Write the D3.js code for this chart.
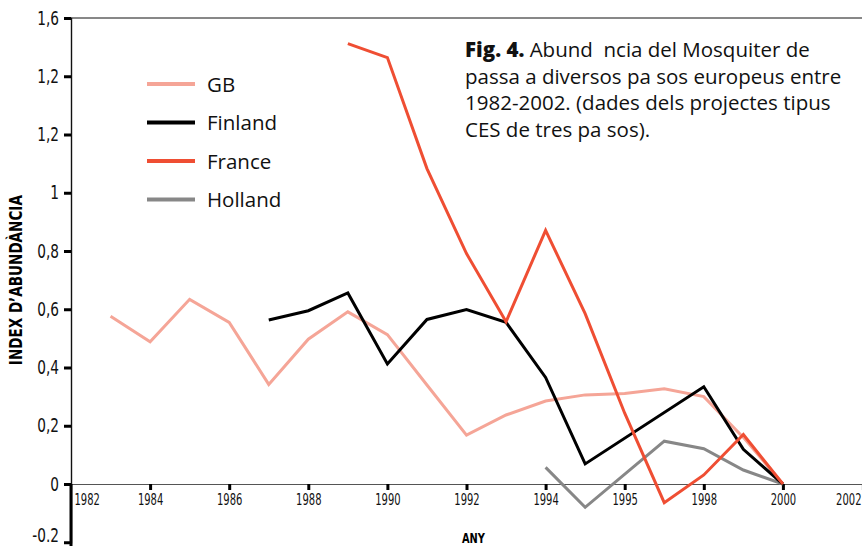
<!DOCTYPE html>
<html>
<head>
<meta charset="utf-8">
<script src="https://cdn.jsdelivr.net/npm/d3@7"></script>
<style>
  body { margin: 0; background: #fff; }
  .narrow { font-family: "DejaVu Sans Condensed", "DejaVu Sans", sans-serif; font-stretch: condensed; }
  .txt { font-family: "Open Sans", "Noto Sans", sans-serif; }
</style>
</head>
<body>
<div id="chart"></div>
<script>
'use strict';

// data
var xTicks = [1982, 1984, 1986, 1988, 1990, 1992, 1994, 1996, 1998, 2000, 2002];
var xTickLabels = ['1982', '1984', '1986', '1988', '1990', '1992', '1994', '1995', '1998', '2000', '2002'];
var yTicks = [-0.2, 0, 0.2, 0.4, 0.6, 0.8, 1, 1.2, 1.4, 1.6];
var yTickLabels = ['-0.2', '0', '0,2', '0,4', '0,6', '0,8', '1', '1,2', '1,2', '1,6'];

var gbYears = [1983, 1984, 1985, 1986, 1987, 1988, 1989, 1990, 1991, 1992, 1993, 1994, 1995, 1996, 1997, 1998, 1999, 2000];
var gbValues = [0.576, 0.488, 0.634, 0.555, 0.342, 0.497, 0.591, 0.513, 0.34, 0.168, 0.237, 0.285, 0.306, 0.311, 0.327, 0.300, 0.16, 0];

var finYears = [1987, 1988, 1989, 1990, 1991, 1992, 1993, 1994, 1995, 1998, 1999, 2000];
var finValues = [0.563, 0.595, 0.656, 0.412, 0.565, 0.599, 0.555, 0.366, 0.069, 0.334, 0.119, 0];

var fraYears = [1989, 1990, 1991, 1992, 1993, 1994, 1995, 1996, 1997, 1998, 1999, 2000];
var fraValues = [1.512, 1.464, 1.083, 0.791, 0.557, 0.871, 0.585, 0.243, -0.064, 0.031, 0.17, 0];

var holYears = [1994, 1995, 1997, 1998, 1999, 2000];
var holValues = [0.057, -0.08, 0.147, 0.121, 0.048, 0];

var seriesNames = ['GB', 'Finland', 'France', 'Holland'];
var seriesColors = ['#f5a597', '#000000', '#ef4e33', '#878787'];

var titleLines = [
  [{t: 'Fig. 4.', b: true}, {t: ' Abund  ncia del Mosquiter de'}],
  [{t: 'passa a diversos pa sos europeus entre'}],
  [{t: '1982-2002. (dades dels projectes tipus'}],
  [{t: 'CES de tres pa sos).'}]
];

var width = 862, height = 546;
var sqY = 0.8;    // horizontal squeeze, y tick labels
var sqX = 0.74;   // horizontal squeeze, x tick labels

var svg = d3.select('#chart')
  .append('svg')
    .attr('width', width)
    .attr('height', height);

var x = d3.scaleLinear().domain([1982, 2002]).range([71, 862]);
var y = d3.scaleLinear().domain([-0.2, 1.6]).range([542.25, 18]);

// frame top line
svg.append('line')
  .attr('x1', x(1982)).attr('x2', x(2002))
  .attr('y1', y(1.6)).attr('y2', y(1.6))
  .attr('stroke', '#111').attr('stroke-width', 1);

// x axis along zero
var xAxis = d3.axisBottom(x)
  .tickValues(xTicks)
  .tickSize(6)
  .tickFormat(function(d, i){ return xTickLabels[i]; });

var gx = svg.append('g')
  .attr('transform', 'translate(0,' + y(0) + ')')
  .call(xAxis);
gx.select('.domain').attr('stroke', '#555').attr('stroke-width', 1.2);
gx.selectAll('.tick line').attr('stroke', '#000').attr('stroke-width', 3);
gx.selectAll('.tick text')
  .attr('class', 'narrow')
  .attr('y', 10)
  .attr('font-size', 15)
  .attr('transform', 'scale(' + sqX + ',1)')
  .attr('fill', '#111');
gx.selectAll('.tick').filter(function(d){ return d === 1982; }).select('text')
  .attr('text-anchor', 'start').attr('dx', 3 / sqX);
gx.selectAll('.tick').filter(function(d){ return d === 2002; }).select('text')
  .attr('text-anchor', 'end').attr('dx', -1 / sqX);
gx.selectAll('.tick').filter(function(d){ return d === 1982 || d === 2002; }).select('line').remove();

// y axis
var yAxis = d3.axisLeft(y)
  .tickValues(yTicks)
  .tickSize(7)
  .tickFormat(function(d, i){ return yTickLabels[i]; });

var gy = svg.append('g')
  .attr('transform', 'translate(' + x(1982) + ',0)')
  .call(yAxis);
gy.select('.domain').attr('stroke', '#111').attr('stroke-width', 1.4);
gy.selectAll('.tick line').attr('stroke', '#000').attr('stroke-width', 3);
gy.selectAll('.tick text')
  .attr('class', 'narrow')
  .attr('font-size', 19)
  .attr('x', -12 / sqY)
  .attr('transform', 'scale(' + sqY + ',1)')
  .attr('fill', '#111');
gy.selectAll('.tick').filter(function(d){ return d === -0.2; }).select('text')
  .attr('dy', '-0.05em');

// heavier stub below zero
svg.append('line')
  .attr('x1', x(1982)).attr('x2', x(1982))
  .attr('y1', y(0)).attr('y2', height)
  .attr('stroke', '#000').attr('stroke-width', 3);

// axis titles
svg.append('text')
  .attr('class', 'narrow')
  .attr('transform', 'translate(22,' + y(0.7) + ') rotate(-90)')
  .attr('text-anchor', 'middle')
  .attr('font-size', 17)
  .attr('font-weight', 'bold')
  .attr('textLength', 170)
  .attr('lengthAdjust', 'spacingAndGlyphs')
  .text('INDEX D\u2019ABUNDÀNCIA');

svg.append('text')
  .attr('class', 'narrow')
  .attr('x', 462).attr('y', 543)
  .attr('font-size', 14)
  .attr('font-weight', 'bold')
  .attr('textLength', 23)
  .attr('lengthAdjust', 'spacingAndGlyphs')
  .text('ANY');

// lines
var line = d3.line()
  .x(function(d){ return x(d[0]); })
  .y(function(d){ return y(d[1]); });

var zipped = function(years, values){
  return years.map(function(yr, i){ return [yr, values[i]]; });
};

var series = [
  zipped(gbYears, gbValues),
  zipped(finYears, finValues),
  zipped(fraYears, fraValues),
  zipped(holYears, holValues)
];

// draw order: GB under, then Holland, Finland, France on top
[0, 3, 1, 2].forEach(function(k){
  svg.append('path')
    .datum(series[k])
    .attr('fill', 'none')
    .attr('stroke', seriesColors[k])
    .attr('stroke-width', 3)
    .attr('stroke-linejoin', 'miter')
    .attr('d', line);
});

// legend
var legend = svg.append('g').attr('transform', 'translate(147,84)');
var item = legend.selectAll('g')
  .data(seriesNames)
  .enter().append('g')
    .attr('transform', function(d, i){ return 'translate(0,' + (i * 38.5) + ')'; });
item.append('line')
  .attr('x1', 0).attr('x2', 48)
  .attr('stroke', function(d, i){ return seriesColors[i]; })
  .attr('stroke-width', 4);
item.append('text')
  .attr('class', 'txt')
  .attr('x', 60).attr('y', 7.5)
  .attr('font-size', 20.5)
  .attr('fill', '#111')
  .text(function(d){ return d; });

// caption
var cap = svg.append('text')
  .attr('class', 'txt')
  .attr('font-size', 20.5)
  .attr('fill', '#111')
  .style('white-space', 'pre');
titleLines.forEach(function(parts, i){
  parts.forEach(function(p, j){
    var ts = cap.append('tspan').text(p.t);
    if (j === 0) ts.attr('x', 465).attr('y', 57 + i * 26.5);
    if (p.b) ts.attr('font-weight', 800);
  });
});
</script>
</body>
</html>
